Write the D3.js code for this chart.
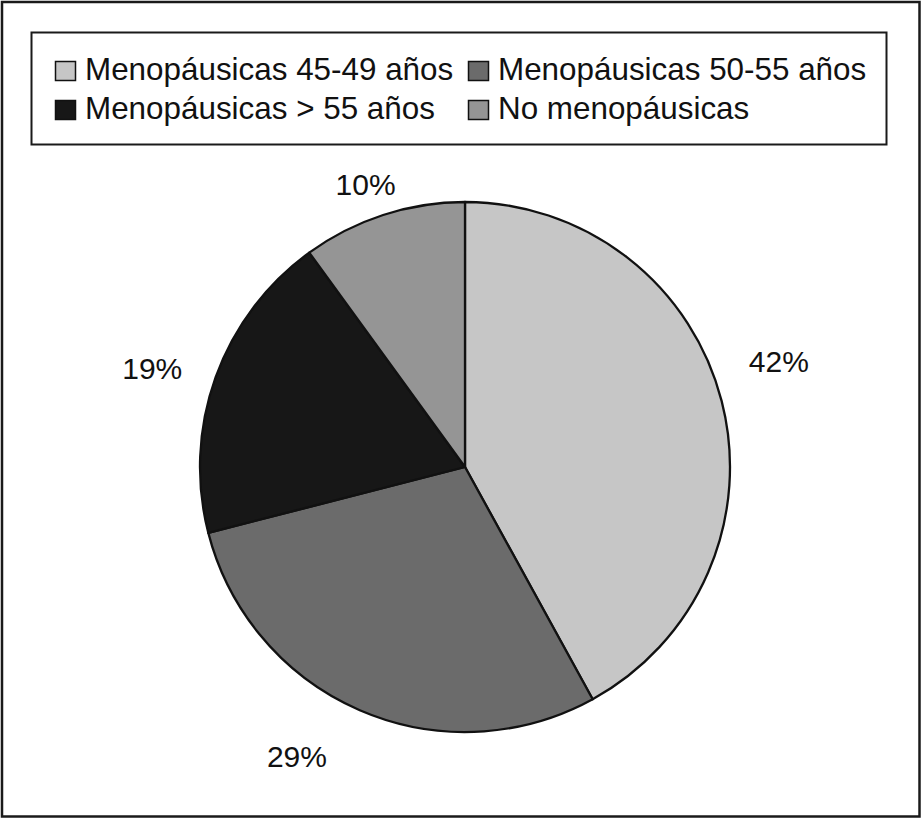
<!DOCTYPE html>
<html>
<head>
<meta charset="utf-8">
<script src="https://cdn.jsdelivr.net/npm/d3@7"></script>
<style>
  html, body { margin: 0; padding: 0; background: #fff; }
  svg { display: block; font-family: "Liberation Sans", Arial, Helvetica, sans-serif; }
</style>
</head>
<body>
<svg id="chart" width="922" height="819"></svg>
<script>
// ---- data ----
const categories = ["Menopáusicas 45-49 años", "Menopáusicas 50-55 años", "Menopáusicas > 55 años", "No menopáusicas"];
const values = [42, 29, 19, 10];
const labels = ["42%", "29%", "19%", "10%"];
const colors = ["#c6c6c6", "#6b6b6b", "#171717", "#959595"];

// ---- layout ----
const W = 922, H = 819;
const cx = 465, cy = 467, R = 265;
const labelRadius = 325;
// small placement adjustments mimicking the original's "best fit" label placement
const labelNudge = [[-1, -25], [-39, -9], [-7, 12], [1, 27]];

const svg = d3.select("#chart");

// outer frame
svg.append("rect").attr("x", 2).attr("y", 2).attr("width", W - 4.5).attr("height", H - 4.5)
  .attr("fill", "#fff").attr("stroke", "#1a1a1a").attr("stroke-width", 2.5);

// legend box
svg.append("rect").attr("x", 31.5).attr("y", 32.5).attr("width", 855).attr("height", 112)
  .attr("fill", "#fff").attr("stroke", "#1a1a1a").attr("stroke-width", 2);

const legendPos = [[55, 80], [468, 80], [55, 119], [468, 119]];
const lg = svg.append("g").selectAll("g").data(categories).join("g")
  .attr("transform", (d, i) => `translate(${legendPos[i][0]},${legendPos[i][1]})`);
lg.append("rect").attr("x", 0.5).attr("y", -18.5).attr("width", 20).attr("height", 19)
  .attr("fill", (d, i) => colors[i]).attr("stroke", "#111").attr("stroke-width", 1.5);
lg.append("text").attr("x", 30).attr("y", 0).attr("font-size", 31.4).attr("fill", "#111")
  .text(d => d);

// pie
const pie = d3.pie().sort(null).value(d => d)(values);
const arc = d3.arc().innerRadius(0).outerRadius(R);
const labelArc = d3.arc().innerRadius(labelRadius).outerRadius(labelRadius);

const g = svg.append("g").attr("transform", `translate(${cx},${cy})`);
g.selectAll("path").data(pie).join("path")
  .attr("d", arc)
  .attr("fill", (d, i) => colors[i])
  .attr("stroke", "#111").attr("stroke-width", 2.3).attr("stroke-linejoin", "round");

g.selectAll("text").data(pie).join("text")
  .attr("transform", (d, i) => {
    const [x, y] = labelArc.centroid(d);
    return `translate(${x + labelNudge[i][0]},${y + labelNudge[i][1]})`;
  })
  .attr("text-anchor", "middle").attr("dy", "0.35em")
  .attr("font-size", 30).attr("fill", "#111")
  .text((d, i) => labels[i]);
</script>
</body>
</html>
